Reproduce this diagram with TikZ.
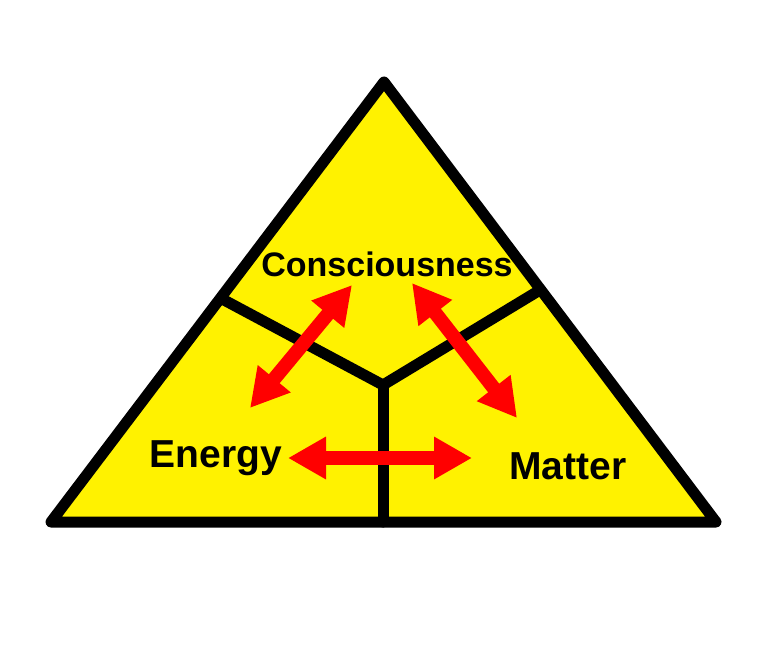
\documentclass[tikz,border=0pt]{standalone}
\usepackage{fontspec}
\setmainfont{Liberation Sans}
\usetikzlibrary{arrows.meta}
\begin{document}
\begin{tikzpicture}[x=1pt,y=-1pt,
  edge/.style={line width=11pt,line join=round,line cap=round},
  rel/.style={draw=red,line width=14pt,{Triangle[length=38pt,width=40pt]}-{Triangle[length=38pt,width=40pt]}},
  lbl/.style={anchor=base,font=\bfseries,text=black,inner sep=0pt}]
\useasboundingbox[fill=white] (0,0) rectangle (768,663);
\coordinate (top) at (384,82);
\coordinate (bl) at (51,522);
\coordinate (br) at (716,522);
\coordinate (c) at (383,385);
\coordinate (lside) at (224,300);
\coordinate (rside) at (540,290);
\coordinate (bot) at (383,522);
\filldraw[fill=yellow,edge] (top) -- (bl) -- (br) -- cycle;
\draw[edge] (lside) -- (c) -- (rside);
\draw[edge] (c) -- (bot);
\node[lbl,font=\fontsize{34}{34}\selectfont\bfseries] (cons) at (387,276) {Consciousness};
\node[lbl,font=\fontsize{39}{39}\selectfont\bfseries] (energy) at (216,467) {Energy};
\node[lbl,font=\fontsize{39}{39}\selectfont\bfseries] (matter) at (568,479) {Matter};
\coordinate (a1) at (352,285);
\coordinate (a2) at (250,408);
\coordinate (b1) at (412,283);
\coordinate (b2) at (517,418);
\coordinate (e1) at (288,458);
\coordinate (e2) at (472,458);
\draw[rel] (a1) -- (a2);
\draw[rel] (b1) -- (b2);
\draw[rel] (e1) -- (e2);
\end{tikzpicture}
\end{document}
